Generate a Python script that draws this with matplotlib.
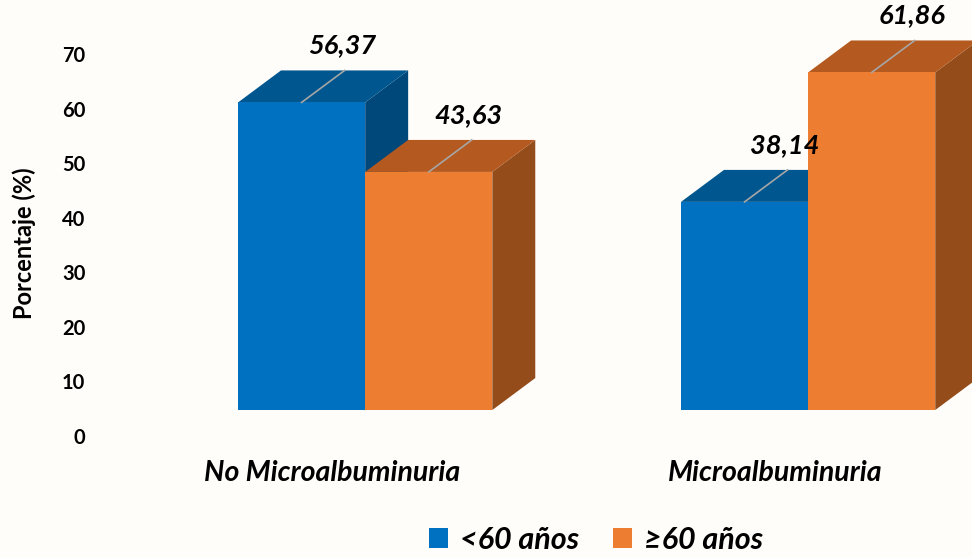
"""
Grouped 3D-style bar chart: microalbuminuria by age group.
"""

import matplotlib

matplotlib.use("Agg")

import matplotlib.pyplot as plt
import numpy as np
from matplotlib.patches import Patch, Polygon

CATEGORIES = ["No Microalbuminuria", "Microalbuminuria"]
SERIES_NAMES = ["<60 años", "≥60 años"]
UNDER_60 = [56.37, 38.14]
OVER_60 = [43.63, 61.86]
Y_TICKS = [0, 10, 20, 30, 40, 50, 60, 70]

FRONT_COLORS = ["#0070C0", "#ED7D31"]
TOP_COLORS = ["#00568F", "#B45A20"]
SIDE_COLORS = ["#00487A", "#944C1B"]
BACKGROUND = "#FEFDF9"

BAR_WIDTH = 0.287
DEPTH_X = 0.097
DEPTH_Y = 5.86
BASE = 4.76
FONT = ["Lato", "DejaVu Sans"]


def draw_bar(ax, x_left, value, idx):
    """
    Draw one pseudo-3D bar: side, top, then front face.
    """
    x_right = x_left + BAR_WIDTH
    top = BASE + value
    side = Polygon(
        [
            (x_right, BASE),
            (x_right, top),
            (x_right + DEPTH_X, top + DEPTH_Y),
            (x_right + DEPTH_X, BASE + DEPTH_Y),
        ],
        closed=True,
        facecolor=SIDE_COLORS[idx],
        edgecolor="none",
        clip_on=False,
    )
    lid = Polygon(
        [
            (x_left, top),
            (x_right, top),
            (x_right + DEPTH_X, top + DEPTH_Y),
            (x_left + DEPTH_X, top + DEPTH_Y),
        ],
        closed=True,
        facecolor=TOP_COLORS[idx],
        edgecolor="none",
        clip_on=False,
    )
    ax.add_patch(side)
    ax.add_patch(lid)
    ax.bar(
        x_left,
        value,
        width=BAR_WIDTH,
        bottom=BASE,
        align="edge",
        color=FRONT_COLORS[idx],
        edgecolor="none",
        clip_on=False,
        zorder=2,
    )

    # leader line and value label
    xc = x_left + BAR_WIDTH / 2
    ax.plot(
        [xc, xc + DEPTH_X],
        [top, top + DEPTH_Y],
        color="#A6A6A6",
        linewidth=1.2,
        clip_on=False,
        zorder=3,
    )
    ax.annotate(
        f"{value:.2f}".replace(".", ","),
        xy=(xc + DEPTH_X, top + DEPTH_Y),
        xytext=(-2, 18),
        textcoords="offset points",
        ha="center",
        va="center",
        fontsize=19.5,
        fontweight="bold",
        fontstyle="italic",
        family=FONT,
        annotation_clip=False,
    )


def main() -> None:
    plt.rcParams["font.family"] = FONT

    fig = plt.figure(figsize=(9.72, 5.58), dpi=100, facecolor=BACKGROUND)
    ax = fig.add_axes([95 / 972, 122 / 558, 877 / 972, 382 / 558])
    ax.set_facecolor("none")

    x = np.arange(len(CATEGORIES))
    for i in range(len(CATEGORIES)):
        draw_bar(ax, x[i] - BAR_WIDTH, UNDER_60[i], 0)
        draw_bar(ax, x[i], OVER_60[i], 1)

    ax.set_xlim(-0.61, 1.37)
    ax.set_ylim(0, 70)
    ax.set_yticks(Y_TICKS)
    ax.set_yticklabels([str(t) for t in Y_TICKS], fontsize=14.5, fontweight="bold")
    ax.set_xticks(x - 0.075)
    ax.set_xticklabels(CATEGORIES, fontsize=20.5, fontweight="bold", fontstyle="italic")
    ax.tick_params(axis="both", length=0)
    ax.tick_params(axis="x", pad=17)
    ax.tick_params(axis="y", pad=7)
    for spine in ax.spines.values():
        spine.set_visible(False)

    fig.text(
        24 / 972,
        1 - 243 / 558,
        "Porcentaje (%)",
        rotation=90,
        ha="center",
        va="center",
        fontsize=17,
        fontweight="bold",
    )

    handles = [Patch(facecolor=c, edgecolor="none") for c in FRONT_COLORS]
    fig.legend(
        handles,
        SERIES_NAMES,
        loc="center",
        bbox_to_anchor=(596 / 972, 1 - 540 / 558),
        ncol=2,
        frameon=False,
        prop={"size": 22, "weight": "bold", "style": "italic", "family": FONT},
        handlelength=0.62,
        handleheight=0.62,
        handletextpad=0.4,
        columnspacing=1.1,
    )

    fig.savefig("out.png", dpi=100, facecolor=BACKGROUND)
    plt.close(fig)


if __name__ == "__main__":
    main()
